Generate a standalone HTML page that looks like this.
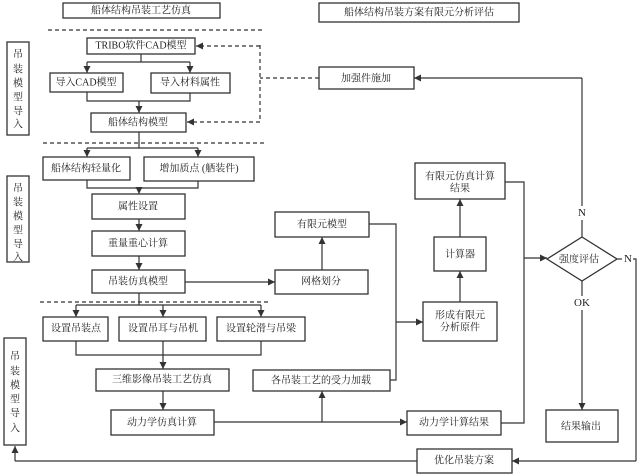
<!DOCTYPE html>
<html><head><meta charset="utf-8"><style>
html,body{margin:0;padding:0;background:#fff;}
svg{display:block;}
text{font-family:"Liberation Serif","Noto Serif CJK SC",serif;font-size:10px;fill:#222;text-anchor:middle;dominant-baseline:central;}
rect{fill:#fff;stroke:#333;stroke-width:1.3;}
.l{fill:none;stroke:#333;stroke-width:1.2;}
.d{fill:none;stroke:#333;stroke-width:1.2;stroke-dasharray:4,3;}
</style></head><body>
<svg width="637" height="476" viewBox="0 0 637 476" xmlns="http://www.w3.org/2000/svg">
<defs><marker id="a" markerWidth="8" markerHeight="8" refX="7" refY="4" orient="auto" markerUnits="userSpaceOnUse"><path d="M0,0.5 L7,4 L0,7.5z" fill="#333"/></marker></defs>

<!-- titles -->
<rect x="63" y="3" width="157" height="15"/><text x="141" y="11">船体结构吊装工艺仿真</text>
<rect x="319" y="3" width="200" height="19"/><text x="419" y="13">船体结构吊装方案有限元分析评估</text>

<!-- dashed separators -->
<line class="d" x1="48" y1="30" x2="264" y2="30"/>
<line class="d" x1="43" y1="143" x2="264" y2="143"/>
<line class="d" x1="40" y1="302" x2="268" y2="302"/>

<!-- side boxes -->
<rect x="7" y="42" width="22" height="93"/>
<text x="18" y="55">吊</text><text x="18" y="70">装</text><text x="18" y="84">模</text><text x="18" y="98">型</text><text x="18" y="112">导</text><text x="18" y="125">入</text>
<rect x="7" y="176" width="22" height="86"/>
<text x="18" y="189">吊</text><text x="18" y="203">装</text><text x="18" y="217">模</text><text x="18" y="231">型</text><text x="18" y="245">导</text><text x="18" y="258">入</text>
<rect x="4" y="338" width="22" height="107"/>
<text x="15" y="357">吊</text><text x="15" y="372">装</text><text x="15" y="386">模</text><text x="15" y="400">型</text><text x="15" y="414">导</text><text x="15" y="429">入</text>

<!-- section 1 -->
<rect x="87" y="38" width="108" height="16"/><text x="141" y="46">TRIBO软件CAD模型</text>
<polyline class="l" points="141,54 141,62"/>
<polyline class="l" points="87,62 190,62"/>
<line class="l" x1="87" y1="62" x2="87" y2="73" marker-end="url(#a)"/>
<line class="l" x1="190" y1="62" x2="190" y2="73" marker-end="url(#a)"/>
<rect x="50" y="73" width="73" height="19"/><text x="86" y="83">导入CAD模型</text>
<rect x="151" y="73" width="79" height="20"/><text x="190" y="83">导入材料属性</text>
<polyline class="l" points="87,92 87,101 190,101 190,93"/>
<line class="l" x1="139" y1="101" x2="139" y2="113" marker-end="url(#a)"/>
<rect x="91" y="113" width="95" height="19"/><text x="138" y="123">船体结构模型</text>

<!-- dashed feedback -->
<polyline class="d" points="319,78 260,78"/>
<polyline class="d" points="260,45 260,122"/>
<line class="d" x1="260" y1="46" x2="196" y2="46" marker-end="url(#a)"/>
<line class="d" x1="260" y1="122" x2="187" y2="122" marker-end="url(#a)"/>

<!-- section 2 -->
<polyline class="l" points="139,132 139,148"/>
<polyline class="l" points="87,148 198,148"/>
<line class="l" x1="87" y1="148" x2="87" y2="157" marker-end="url(#a)"/>
<line class="l" x1="198" y1="148" x2="198" y2="157" marker-end="url(#a)"/>
<rect x="43" y="157" width="87" height="23"/><text x="86" y="169">船体结构轻量化</text>
<rect x="144" y="157" width="110" height="24"/><text x="199" y="169">增加质点 (舾装件)</text>
<polyline class="l" points="87,180 87,188 198,188 198,181"/>
<line class="l" x1="139" y1="188" x2="139" y2="194" marker-end="url(#a)"/>
<rect x="92" y="194" width="93" height="25"/><text x="138" y="207">属性设置</text>
<line class="l" x1="139" y1="219" x2="139" y2="231" marker-end="url(#a)"/>
<rect x="92" y="231" width="93" height="25"/><text x="138" y="244">重量重心计算</text>
<line class="l" x1="139" y1="256" x2="139" y2="270" marker-end="url(#a)"/>
<rect x="92" y="270" width="93" height="23"/><text x="138" y="282">吊装仿真模型</text>
<line class="l" x1="185" y1="282" x2="275" y2="282" marker-end="url(#a)"/>
<rect x="275" y="270" width="93" height="24"/><text x="321" y="282">网格划分</text>
<line class="l" x1="322" y1="270" x2="322" y2="237" marker-end="url(#a)"/>
<rect x="275" y="212" width="94" height="25"/><text x="322" y="225">有限元模型</text>

<!-- section 3 -->
<polyline class="l" points="139,293 139,305"/>
<polyline class="l" points="76,305 261,305"/>
<line class="l" x1="76" y1="305" x2="76" y2="317" marker-end="url(#a)"/>
<line class="l" x1="163" y1="305" x2="163" y2="317" marker-end="url(#a)"/>
<line class="l" x1="261" y1="305" x2="261" y2="317" marker-end="url(#a)"/>
<rect x="43" y="317" width="65" height="24"/><text x="76" y="329">设置吊装点</text>
<rect x="119" y="317" width="87" height="24"/><text x="163" y="329">设置吊耳与吊机</text>
<rect x="217" y="317" width="88" height="24"/><text x="261" y="329">设置轮滑与吊梁</text>
<polyline class="l" points="76,341 76,355 261,355 261,341"/>
<line class="l" x1="163" y1="341" x2="163" y2="369" marker-end="url(#a)"/>
<rect x="96" y="369" width="133" height="22"/><text x="162" y="380">三维影像吊装工艺仿真</text>
<line class="l" x1="163" y1="391" x2="163" y2="410" marker-end="url(#a)"/>
<rect x="111" y="410" width="103" height="25"/><text x="162" y="423">动力学仿真计算</text>
<line class="l" x1="214" y1="422" x2="407" y2="422" marker-end="url(#a)"/>
<line class="l" x1="322" y1="422" x2="322" y2="391" marker-end="url(#a)"/>
<rect x="253" y="370" width="137" height="21"/><text x="321" y="381">各吊装工艺的受力加载</text>
<polyline class="l" points="390,380 396,380 396,224 369,224"/>
<line class="l" x1="396" y1="322" x2="423" y2="322" marker-end="url(#a)"/>
<rect x="423" y="302" width="74" height="39"/><text x="460" y="316">形成有限元</text><text x="460" y="328">分析原件</text>
<line class="l" x1="460" y1="302" x2="460" y2="271" marker-end="url(#a)"/>
<rect x="434" y="237" width="52" height="34"/><text x="460" y="255">计算器</text>
<line class="l" x1="460" y1="237" x2="460" y2="199" marker-end="url(#a)"/>
<rect x="415" y="163" width="90" height="36"/><text x="460" y="177">有限元仿真计算</text><text x="460" y="189">结果</text>
<rect x="407" y="411" width="94" height="24"/><text x="454" y="423">动力学计算结果</text>
<polyline class="l" points="505,182 524,182 524,423 501,423"/>
<line class="l" x1="524" y1="258" x2="547" y2="258" marker-end="url(#a)"/>

<!-- diamond -->
<polygon points="582,237 617,259 582,281 547,259" fill="#fff" stroke="#333" stroke-width="1.3"/>
<text x="579" y="260">强度评估</text>
<polyline class="l" points="582,237 582,220"/>
<text x="582" y="213" style="font-size:11px">N</text>
<polyline class="l" points="582,206 582,78"/>
<line class="l" x1="582" y1="78" x2="414" y2="78" marker-end="url(#a)"/>
<rect x="319" y="67" width="95" height="22"/><text x="366" y="79">加强件施加</text>
<text x="628" y="259" style="font-size:11px">N</text>
<polyline class="l" points="617,259 622,259"/>
<polyline class="l" points="633,259 636,259 636,461"/>
<line class="l" x1="636" y1="461" x2="512" y2="461" marker-end="url(#a)"/>
<line class="l" x1="582" y1="281" x2="582" y2="296"/>
<text x="582" y="303" style="font-size:11px">OK</text>
<line class="l" x1="582" y1="310" x2="582" y2="410" marker-end="url(#a)"/>
<rect x="546" y="410" width="72" height="32"/><text x="581" y="427">结果输出</text>
<rect x="417" y="449" width="95" height="24"/><text x="464" y="461">优化吊装方案</text>
<polyline class="l" points="417,461 15,461"/>
<line class="l" x1="15" y1="461" x2="15" y2="446" marker-end="url(#a)"/>
</svg>
</body></html>
